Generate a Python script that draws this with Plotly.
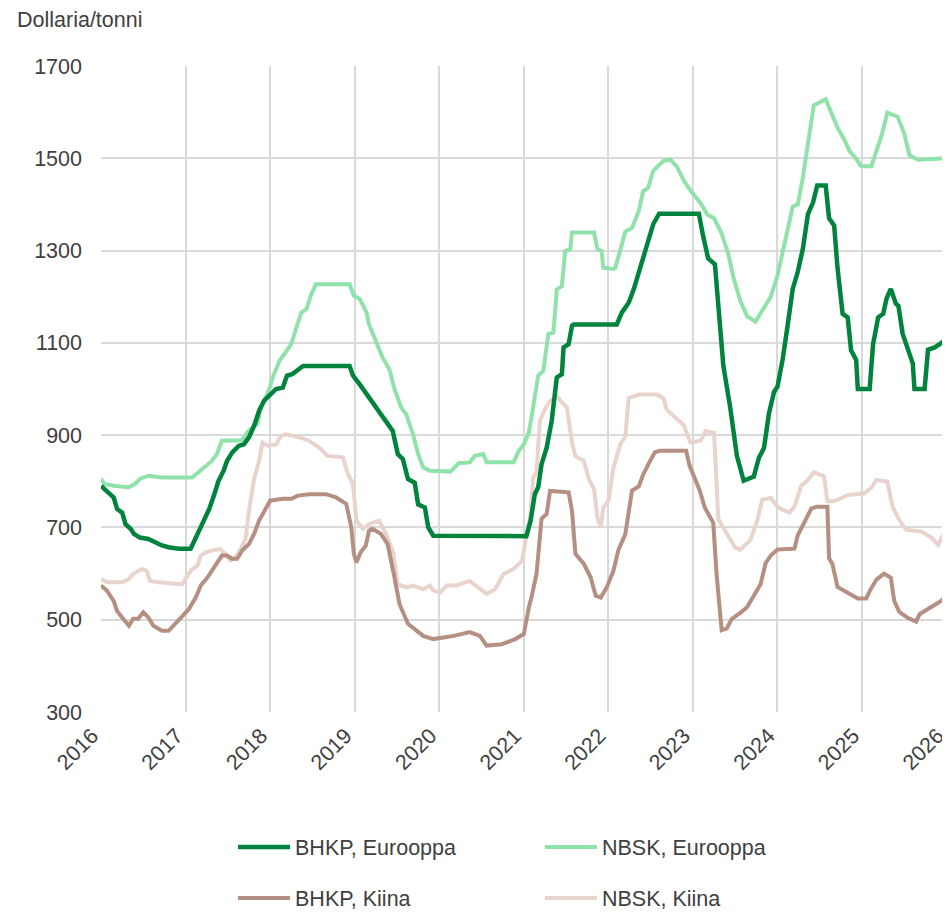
import plotly.graph_objects as go

# ---------------- data (decimal years, USD/tonne) ----------------
bhkp_eu_x = [2016.00, 2016.07, 2016.15, 2016.19, 2016.25, 2016.29, 2016.35, 2016.39, 2016.46, 2016.56,
             2016.64, 2016.72, 2016.80, 2016.92, 2017.06, 2017.12, 2017.20, 2017.28, 2017.34, 2017.39,
             2017.45, 2017.49, 2017.55, 2017.63, 2017.69, 2017.75, 2017.81, 2017.87, 2017.93, 2018.01,
             2018.07, 2018.15, 2018.20, 2018.26, 2018.35, 2018.39, 2018.94, 2018.98, 2019.06, 2019.14,
             2019.21, 2019.29, 2019.37, 2019.45, 2019.51, 2019.57, 2019.63, 2019.71, 2019.75, 2019.83,
             2019.87, 2019.93, 2021.03, 2021.08, 2021.13, 2021.17, 2021.21, 2021.27, 2021.33, 2021.37,
             2021.39, 2021.45, 2021.47, 2021.53, 2021.57, 2021.59, 2022.10, 2022.16, 2022.24, 2022.30,
             2022.36, 2022.41, 2022.47, 2022.53, 2022.60, 2023.07, 2023.12, 2023.18, 2023.26, 2023.30,
             2023.36, 2023.44, 2023.52, 2023.60, 2023.72, 2023.78, 2023.84, 2023.90, 2023.96, 2024.00,
             2024.06, 2024.12, 2024.18, 2024.24, 2024.30, 2024.36, 2024.42, 2024.47, 2024.57, 2024.61,
             2024.67, 2024.71, 2024.77, 2024.83, 2024.87, 2024.93, 2024.95, 2025.09, 2025.13, 2025.19,
             2025.25, 2025.29, 2025.34, 2025.40, 2025.43, 2025.48, 2025.54, 2025.60, 2025.62, 2025.74,
             2025.78, 2025.86, 2025.94, 2026.00, 2026.04]
bhkp_eu_y = [790, 779, 765, 740, 732, 707, 697, 686, 678, 675,
             668, 661, 657, 654, 654, 678, 707, 740, 772, 801,
             823, 844, 862, 877, 880, 895, 920, 953, 975, 990,
             1000, 1003, 1029, 1032, 1043, 1050, 1050, 1029, 1010, 989,
             974, 953, 931, 909, 859, 848, 805, 797, 750, 743,
             700, 682, 681, 714, 772, 787, 837, 873, 931, 996,
             1025, 1032, 1090, 1097, 1137, 1140, 1140, 1166, 1187, 1216,
             1254, 1287, 1320, 1357, 1380, 1380, 1332, 1283, 1270, 1179,
             1050, 961, 855, 801, 810, 851, 872, 948, 994, 1005,
             1063, 1138, 1217, 1254, 1304, 1379, 1404, 1441, 1441, 1370,
             1354, 1262, 1163, 1155, 1084, 1063, 1000, 1000, 1097, 1155,
             1163, 1196, 1217, 1185, 1180, 1120, 1085, 1055, 1000, 1000,
             1085, 1090, 1100, 1110, 1135]

nbsk_eu_x = [2016.00, 2016.04, 2016.17, 2016.33, 2016.40, 2016.46, 2016.56, 2016.72, 2017.08, 2017.15,
             2017.23, 2017.31, 2017.37, 2017.43, 2017.67, 2017.73, 2017.79, 2017.85, 2017.89, 2017.93,
             2017.99, 2018.03, 2018.11, 2018.17, 2018.25, 2018.31, 2018.37, 2018.43, 2018.48, 2018.54,
             2018.94, 2018.99, 2019.06, 2019.14, 2019.17, 2019.25, 2019.33, 2019.41, 2019.47, 2019.55,
             2019.61, 2019.69, 2019.75, 2019.81, 2019.89, 2020.13, 2020.23, 2020.36, 2020.42, 2020.52,
             2020.56, 2020.88, 2020.94, 2021.00, 2021.06, 2021.11, 2021.17, 2021.23, 2021.29, 2021.35,
             2021.39, 2021.45, 2021.49, 2021.55, 2021.57, 2021.83, 2021.87, 2021.92, 2021.94, 2022.06,
             2022.08, 2022.14, 2022.20, 2022.28, 2022.36, 2022.41, 2022.47, 2022.53, 2022.65, 2022.73,
             2022.81, 2022.90, 2022.98, 2023.09, 2023.17, 2023.25, 2023.34, 2023.42, 2023.48, 2023.56,
             2023.64, 2023.74, 2023.82, 2023.92, 2024.00, 2024.06, 2024.12, 2024.18, 2024.24, 2024.30,
             2024.36, 2024.43, 2024.57, 2024.63, 2024.71, 2024.79, 2024.85, 2024.93, 2024.99, 2025.11,
             2025.17, 2025.23, 2025.30, 2025.42, 2025.50, 2025.56, 2025.66, 2026.01, 2026.04]
nbsk_eu_y = [805, 794, 790, 787, 794, 805, 812, 808, 808, 819,
             830, 844, 859, 888, 889, 906, 917, 924, 960, 974,
             1000, 1025, 1061, 1075, 1097, 1133, 1166, 1173, 1202, 1227,
             1227, 1202, 1195, 1166, 1140, 1104, 1068, 1043, 1000, 960,
             945, 902, 859, 830, 823, 821, 839, 841, 855, 859,
             841, 841, 866, 880, 906, 960, 1029, 1039, 1119, 1122,
             1216, 1223, 1299, 1303, 1339, 1339, 1303, 1299, 1263, 1260,
             1262, 1300, 1341, 1349, 1386, 1428, 1436, 1473, 1494, 1498,
             1482, 1449, 1428, 1403, 1378, 1370, 1337, 1291, 1241, 1191,
             1158, 1146, 1171, 1200, 1246, 1296, 1350, 1395, 1400, 1458,
             1532, 1615, 1628, 1603, 1566, 1541, 1516, 1499, 1483, 1483,
             1516, 1549, 1599, 1590, 1553, 1507, 1497, 1500, 1550]

bhkp_cn_x = [2016.00, 2016.07, 2016.15, 2016.19, 2016.25, 2016.33, 2016.38, 2016.44, 2016.50, 2016.56,
             2016.62, 2016.72, 2016.80, 2016.86, 2016.92, 2016.98, 2017.04, 2017.12, 2017.18, 2017.26,
             2017.31, 2017.37, 2017.43, 2017.49, 2017.55, 2017.61, 2017.67, 2017.75, 2017.81, 2017.87,
             2017.93, 2018.00, 2018.15, 2018.25, 2018.33, 2018.46, 2018.66, 2018.78, 2018.90, 2018.96,
             2018.99, 2019.02, 2019.07, 2019.13, 2019.17, 2019.21, 2019.31, 2019.39, 2019.47, 2019.53,
             2019.63, 2019.73, 2019.81, 2019.93, 2020.17, 2020.36, 2020.48, 2020.56, 2020.74, 2020.90,
             2021.00, 2021.06, 2021.09, 2021.15, 2021.21, 2021.27, 2021.31, 2021.53, 2021.57, 2021.61,
             2021.71, 2021.79, 2021.85, 2021.91, 2021.98, 2022.06, 2022.12, 2022.20, 2022.28, 2022.36,
             2022.41, 2022.49, 2022.55, 2022.61, 2022.92, 2022.96, 2023.02, 2023.08, 2023.14, 2023.24,
             2023.28, 2023.34, 2023.40, 2023.46, 2023.56, 2023.64, 2023.72, 2023.80, 2023.86, 2023.92,
             2024.00, 2024.20, 2024.24, 2024.32, 2024.40, 2024.47, 2024.59, 2024.61, 2024.65, 2024.71,
             2024.79, 2024.87, 2024.95, 2025.05, 2025.09, 2025.17, 2025.26, 2025.34, 2025.38, 2025.44,
             2025.54, 2025.64, 2025.68, 2025.76, 2025.86, 2025.94, 2026.02, 2026.04]
bhkp_cn_y = [574, 563, 541, 519, 505, 487, 502, 502, 516, 505,
             487, 476, 476, 487, 498, 512, 523, 548, 574, 592,
             606, 621, 639, 639, 632, 632, 650, 664, 686, 715,
             736, 758, 762, 762, 769, 772, 772, 765, 751, 700,
             643, 624, 646, 660, 693, 697, 686, 664, 592, 534,
             491, 477, 465, 458, 465, 473, 465, 444, 447, 458,
             469, 527, 548, 599, 719, 729, 779, 776, 736, 643,
             621, 592, 552, 548, 570, 606, 652, 685, 780, 789,
             814, 843, 863, 866, 866, 834, 805, 780, 743, 710,
             598, 477, 481, 502, 515, 527, 552, 577, 623, 639,
             652, 654, 683, 712, 741, 745, 745, 633, 620, 571,
             562, 554, 546, 546, 562, 587, 600, 591, 541, 517,
             504, 496, 512, 521, 533, 541, 562, 587]

nbsk_cn_x = [2016.00, 2016.07, 2016.25, 2016.33, 2016.38, 2016.48, 2016.54, 2016.58, 2016.68, 2016.96,
             2017.02, 2017.08, 2017.14, 2017.18, 2017.24, 2017.31, 2017.41, 2017.47, 2017.53, 2017.59,
             2017.65, 2017.71, 2017.75, 2017.81, 2017.87, 2017.91, 2017.97, 2018.07, 2018.13, 2018.19,
             2018.35, 2018.46, 2018.58, 2018.68, 2018.86, 2018.92, 2018.98, 2019.02, 2019.10, 2019.17,
             2019.29, 2019.37, 2019.45, 2019.51, 2019.61, 2019.69, 2019.81, 2019.89, 2019.93, 2020.01,
             2020.09, 2020.20, 2020.36, 2020.46, 2020.56, 2020.66, 2020.76, 2020.88, 2020.98, 2021.02,
             2021.08, 2021.11, 2021.15, 2021.19, 2021.25, 2021.31, 2021.39, 2021.45, 2021.51, 2021.57,
             2021.61, 2021.71, 2021.77, 2021.83, 2021.87, 2021.91, 2021.94, 2022.00, 2022.06, 2022.14,
             2022.20, 2022.24, 2022.36, 2022.57, 2022.65, 2022.69, 2022.79, 2022.89, 2022.97, 2023.09,
             2023.15, 2023.25, 2023.30, 2023.38, 2023.50, 2023.56, 2023.68, 2023.76, 2023.82, 2023.92,
             2024.01, 2024.08, 2024.14, 2024.20, 2024.28, 2024.36, 2024.43, 2024.55, 2024.59, 2024.67,
             2024.83, 2025.03, 2025.11, 2025.17, 2025.30, 2025.36, 2025.44, 2025.52, 2025.70, 2025.82,
             2025.90, 2025.98, 2026.04]
nbsk_cn_y = [588, 581, 581, 588, 599, 610, 606, 584, 581, 577,
             595, 610, 617, 639, 646, 650, 653, 643, 628, 635,
             653, 675, 736, 805, 844, 884, 877, 880, 899, 902,
             895, 888, 873, 855, 852, 816, 794, 715, 697, 707,
             715, 686, 649, 577, 570, 574, 566, 574, 563, 559,
             574, 574, 584, 570, 556, 566, 599, 610, 628, 671,
             729, 808, 819, 931, 956, 974, 985, 971, 960, 884,
             855, 844, 805, 783, 722, 700, 743, 757, 830, 880,
             897, 980, 988, 988, 980, 955, 938, 922, 884, 888,
             909, 905, 718, 693, 656, 652, 673, 714, 760, 764,
             743, 737, 732, 745, 790, 803, 820, 811, 757, 757,
             770, 774, 786, 803, 799, 745, 716, 695, 691, 678,
             662, 691, 691]

series_names = ["BHKP, Eurooppa", "NBSK, Eurooppa", "BHKP, Kiina", "NBSK, Kiina"]
year_ticks = [2016, 2017, 2018, 2019, 2020, 2021, 2022, 2023, 2024, 2025, 2026]
year_labels = [str(y) for y in year_ticks]
y_ticks = [300, 500, 700, 900, 1100, 1300, 1500, 1700]
y_title = "Dollaria/tonni"

# ---------------- figure ----------------
# The page body has an 8px default margin, so the figure is sized and
# margined to land the plot area where the reference has it.
FONT = "Liberation Sans, Arial, sans-serif"
FS = 21.5
TXT = "#404040"
GRID = "#D9D9D9"

fig = go.Figure()

traces = [
    (nbsk_cn_x, nbsk_cn_y, series_names[3], "#E8D4CC", 4, "legend4"),
    (bhkp_cn_x, bhkp_cn_y, series_names[2], "#B58F81", 4, "legend3"),
    (nbsk_eu_x, nbsk_eu_y, series_names[1], "#8FE2AA", 4, "legend2"),
    (bhkp_eu_x, bhkp_eu_y, series_names[0], "#00843D", 4.5, "legend"),
]
for xs, ys, name, col, w, lg in traces:
    fig.add_trace(go.Scatter(x=xs, y=ys, name=name, mode="lines",
                             line=dict(color=col, width=w), legend=lg))

legend_common = dict(orientation="h", xanchor="left", yanchor="middle",
                     font=dict(family=FONT, size=FS, color=TXT),
                     bgcolor="rgba(0,0,0,0)", itemwidth=52)

fig.update_layout(
    width=942, height=904,
    margin=dict(l=93, r=0, t=58, b=200, autoexpand=False),
    paper_bgcolor="white", plot_bgcolor="white",
    font=dict(family=FONT, size=FS, color=TXT),
    showlegend=True,
    legend=dict(x=0.1555, y=-0.209, **legend_common),
    legend2=dict(x=0.517, y=-0.209, **legend_common),
    legend3=dict(x=0.1555, y=-0.288, **legend_common),
    legend4=dict(x=0.517, y=-0.288, **legend_common),
    xaxis=dict(range=[2016, 2026.04], tickmode="array", tickvals=year_ticks, ticktext=year_labels,
               tickangle=-45, showgrid=True, gridcolor=GRID, gridwidth=1.5, automargin=False,
               zeroline=False, showline=False, ticks="", ticklabeloverflow="allow",
               ticklabelshift=-9, ticklabelstandoff=6,
               tickfont=dict(family=FONT, size=FS, color=TXT)),
    yaxis=dict(range=[300, 1700], tickmode="array", tickvals=y_ticks, automargin=False,
               showgrid=True, gridcolor=GRID, gridwidth=1.5,
               zeroline=False, showline=False, ticks="", ticklabelstandoff=18,
               tickfont=dict(family=FONT, size=FS, color=TXT)),
    annotations=[dict(text=y_title, xref="paper", yref="paper", x=-0.101, y=1.0712,
                      xanchor="left", yanchor="middle", showarrow=False,
                      font=dict(family=FONT, size=FS, color=TXT))],
)

fig.write_html("out.html")
